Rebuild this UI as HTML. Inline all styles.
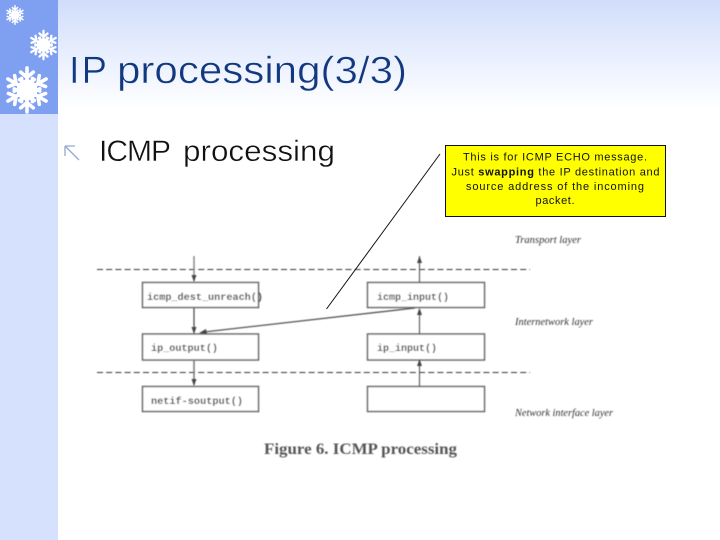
<!DOCTYPE html>
<html><head><meta charset="utf-8"><style>
html,body{margin:0;padding:0;background:#fff}
svg{display:block}
text{font-family:"Liberation Sans",sans-serif}
.m{font-family:"Liberation Mono",monospace;font-size:10.5px;fill:#333;font-weight:bold;opacity:.85}
.i{font-family:"Liberation Serif",serif;font-style:italic;font-size:10.5px;fill:#333}
.c{font-size:11px;fill:#111;text-anchor:middle}
</style></head><body>
<svg width="720" height="540" viewBox="0 0 720 540" xmlns="http://www.w3.org/2000/svg">
<defs>
<linearGradient id="g" x1="0" y1="0" x2="0" y2="1"><stop offset="0" stop-color="#d0ddfb"/><stop offset="1" stop-color="#fff"/></linearGradient>
<filter id="b" x="-5%" y="-5%" width="110%" height="110%"><feGaussianBlur stdDeviation="0.45"/></filter>
<filter id="s" x="-5%" y="-5%" width="110%" height="110%"><feGaussianBlur stdDeviation="0.3"/></filter>
<g id="f" stroke="#fff" stroke-linecap="round">
<g id="a"><path d="M0 0V-10.500M-3 -8.500L0 -6L3 -8.500M-3.500 -5L0 -2.500L3.500 -5" fill="none" stroke-width="1.700"/></g>
<use href="#a" transform="rotate(60)"/><use href="#a" transform="rotate(120)"/><use href="#a" transform="rotate(180)"/><use href="#a" transform="rotate(240)"/><use href="#a" transform="rotate(300)"/>
<path d="M0 -5.500L4.800 -2.750V2.750L0 5.500L-4.800 2.750V-2.750Z" fill="#fff" stroke="none"/>
</g>
</defs>
<rect width="720" height="540" fill="#fff"/>
<rect x="58" width="662" height="108" fill="url(#g)"/>
<rect width="58" height="540" fill="#d6e2fd"/>
<rect width="58" height="114" fill="#7f9ff1"/>
<g filter="url(#s)">
<use href="#f" transform="translate(15 15) scale(.88)"/>
<use href="#f" transform="translate(43.500 45) scale(1.35)"/>
<use href="#f" transform="translate(27 90) scale(2.1)"/>
</g>

<g font-size="38" fill="#12397f" stroke="#eef3fe" stroke-width="0.500">
<text x="69" y="83" textLength="38" lengthAdjust="spacing">IP</text>
<text x="117" y="83" textLength="290" lengthAdjust="spacingAndGlyphs">processing(3/3)</text>
</g>
<path d="M65 146L79 160M65 146H75M65 146V156" fill="none" stroke="#97a8d0" stroke-width="1.300"/>
<g font-size="30" fill="#111" stroke="#fff" stroke-width="0.400">
<text x="99" y="161" textLength="72" lengthAdjust="spacing">ICMP</text>
<text x="183" y="161" textLength="152" lengthAdjust="spacingAndGlyphs">processing</text>
</g>

<g filter="url(#b)">
<g fill="none" stroke="#333" stroke-width="1" stroke-dasharray="6 3.200">
<path d="M97 269.500H530"/><path d="M97 372.500H530"/>
</g>
<g fill="#fff" stroke="#666" stroke-width="1.500">
<rect x="142.500" y="282.500" width="116" height="25"/>
<rect x="142.500" y="334" width="116" height="26"/>
<rect x="142.500" y="386.500" width="116" height="25"/>
<rect x="367.500" y="282.500" width="117" height="25"/>
<rect x="367.500" y="334" width="117" height="26"/>
<rect x="367.500" y="386.500" width="117" height="25"/>
</g>
<g fill="none">
<path d="M194 256V281" stroke="#888" stroke-width="1.500"/>
<path d="M194 308V333" stroke="#444" stroke-width="1.200"/>
<path d="M194 360V385" stroke="#777" stroke-width="1.500"/>
<path d="M419.500 282V256" stroke="#555" stroke-width="1.100"/>
<path d="M419.500 334V309" stroke="#555" stroke-width="1.100"/>
<path d="M419.500 386V360" stroke="#555" stroke-width="1.100"/>
<path d="M415 308L204 332" stroke="#555" stroke-width="1.300"/>
</g>
<g fill="#444">
<path d="M191.500 275L194 282L196.500 275Z"/>
<path d="M191.500 327L194 334L196.500 327Z"/>
<path d="M191.500 379L194 386L196.500 379Z"/>
<path d="M417 263L419.500 256L422 263Z"/>
<path d="M417 315L419.500 308L422 315Z"/>
<path d="M417 366L419.500 359L422 366Z"/>
<path d="M206 329L199 333L207 334Z"/>
</g>
<text class="m" x="147" y="300" textLength="116" lengthAdjust="spacingAndGlyphs">icmp_dest_unreach()</text>
<text class="m" x="151" y="351" textLength="67" lengthAdjust="spacingAndGlyphs">ip_output()</text>
<text class="m" x="151" y="404" textLength="92" lengthAdjust="spacingAndGlyphs">netif-soutput()</text>
<text class="m" x="377" y="300" textLength="72" lengthAdjust="spacingAndGlyphs">icmp_input()</text>
<text class="m" x="377" y="351" textLength="60" lengthAdjust="spacingAndGlyphs">ip_input()</text>
<text class="i" x="515" y="243" textLength="66" lengthAdjust="spacingAndGlyphs">Transport layer</text>
<text class="i" x="515" y="325" textLength="78" lengthAdjust="spacingAndGlyphs">Internetwork layer</text>
<text class="i" x="515" y="416" textLength="98" lengthAdjust="spacingAndGlyphs">Network interface layer</text>
<text x="264" y="454" font-size="15.500" font-weight="bold" fill="#555" style="font-family:'Liberation Serif',serif" textLength="193" lengthAdjust="spacingAndGlyphs">Figure 6. ICMP processing</text>
</g>

<path d="M326.500 309L440 154" stroke="#111" stroke-width="1" fill="none"/>
<rect x="445.500" y="145.500" width="220" height="71" fill="#ffff00" stroke="#111" stroke-width="1"/>
<text class="c" x="555" y="160.500" textLength="184" lengthAdjust="spacing">This is for ICMP ECHO message.</text>
<text class="c" x="555.500" y="175.500" textLength="208" lengthAdjust="spacing">Just <tspan font-weight="bold">swapping</tspan> the IP destination and</text>
<text class="c" x="555" y="190" textLength="178" lengthAdjust="spacing">source address of the incoming</text>
<text class="c" x="555" y="204" textLength="39" lengthAdjust="spacing">packet.</text>
</svg>
</body></html>
